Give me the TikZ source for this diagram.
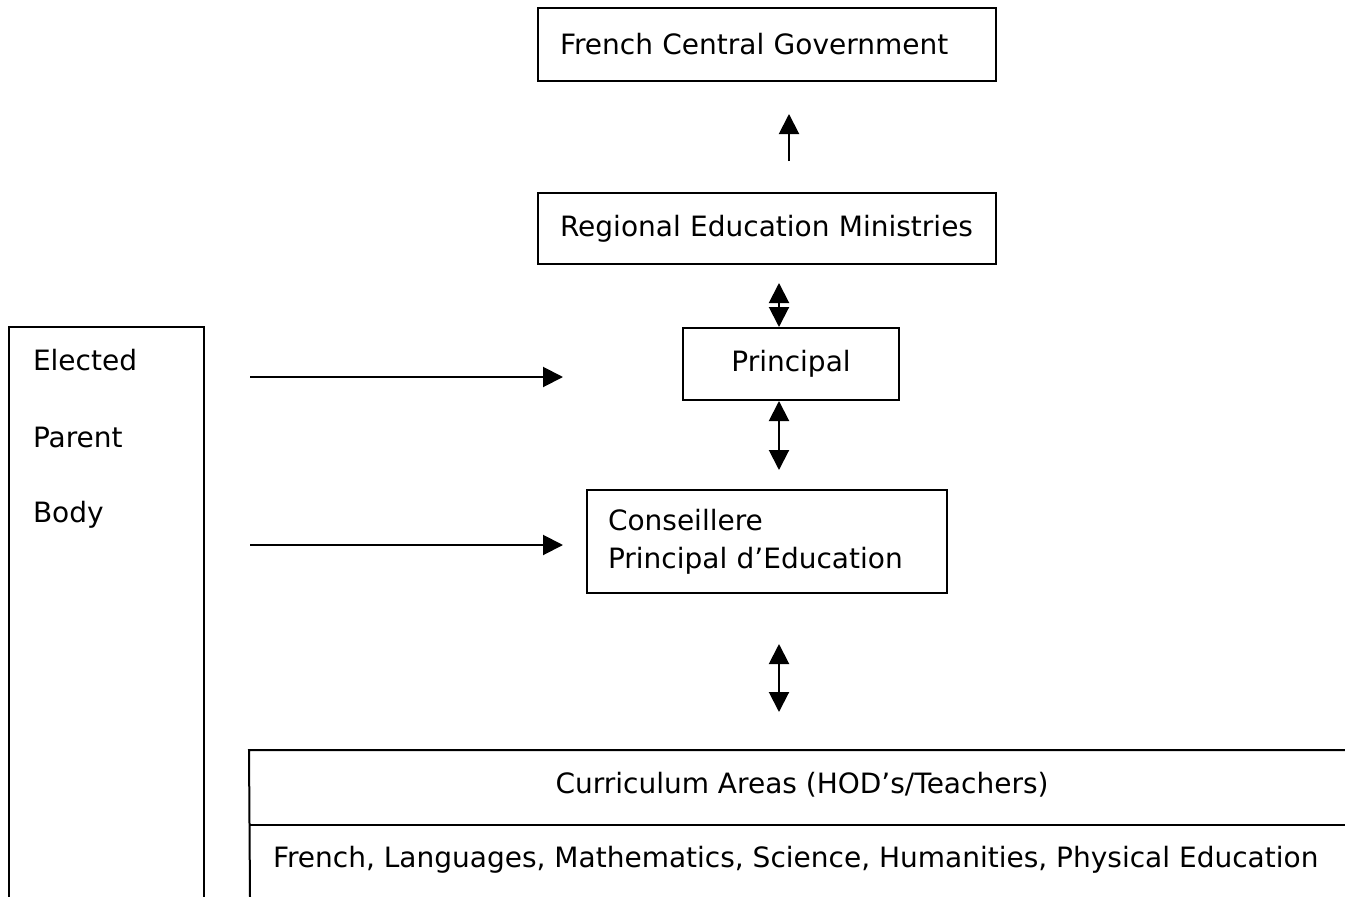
\documentclass[tikz,border=0pt]{standalone}
\usepackage{fontspec}
\setmainfont{DejaVu Sans}
\usetikzlibrary{arrows.meta}
\begin{document}
\begin{tikzpicture}[x=1pt,y=-1pt,
  line width=2pt,
  every node/.style={font=\fontsize{28}{38}\selectfont, inner sep=0pt},
  orgbox/.style={draw, rectangle, line width=2pt},
  tip/.style={-{Triangle[width=20pt,length=20pt]}},
  dbl/.style={{Triangle[width=20pt,length=20pt]}-{Triangle[width=20pt,length=20pt]}},
  label/.style={anchor=west}]
\useasboundingbox (0,0) rectangle (1345,897);

% main chain of offices
\node[orgbox, minimum width=458pt, minimum height=73pt, text width=414pt, align=left]
  (fr) at (767,44.5) {French Central Government};
\node[orgbox, minimum width=458pt, minimum height=71pt, text width=414pt, align=left]
  (reg) at (767,228.5) {Regional Education Ministries};
\node[orgbox, minimum width=216pt, minimum height=72pt]
  (prin) at (791,364) {Principal};
\node[orgbox, minimum width=360pt, minimum height=103pt, text width=318pt, align=left]
  (cpe) at (767,541.5) {Conseillere\\Principal d’Education};

% curriculum table (open to the right and below)
\node[minimum width=1095pt, minimum height=73pt] (cur) at (797.5,787.5) {};
\node (curt) at (802,785) {Curriculum Areas (HOD’s/Teachers)};
\node[label] (subj) at (272,860) {French, Languages, Mathematics, Science, Humanities, Physical Education};
\draw (cur.north east) -- (cur.north west) -- (250,897);
\draw (cur.south west) -- (cur.south east);

% parent body column (open below)
\node[minimum width=193pt, minimum height=569pt] (ep) at (106.5,612.5) {};
\draw (ep.south west) -- (ep.north west) -- (ep.north east) -- (ep.south east);
\node[label] (el) at (32,360) {Elected};
\node[label] (pa) at (32,437) {Parent};
\node[label] (bo) at (32,515) {Body};

% connectors
\draw[tip, shorten <=31pt, shorten >=32pt] ([xshift=22pt]reg.north) -- ([xshift=22pt]fr.south);
\draw[dbl, shorten <=18pt] ([xshift=12pt]reg.south) -- ([xshift=-12pt]prin.north);
\draw[dbl, shorten >=19pt] ([xshift=-12pt]prin.south) -- ([xshift=12pt]cpe.north);
\draw[dbl, shorten <=50pt, shorten >=38pt] ([xshift=12pt]cpe.south) -- (cur.north -| 779,0);

\coordinate (e1) at (250,377);
\coordinate (p1) at (563,377);
\coordinate (e2) at (250,545);
\coordinate (c2) at (563,545);
\draw[tip] (e1) -- (p1);
\draw[tip] (e2) -- (c2);
\end{tikzpicture}
\end{document}
